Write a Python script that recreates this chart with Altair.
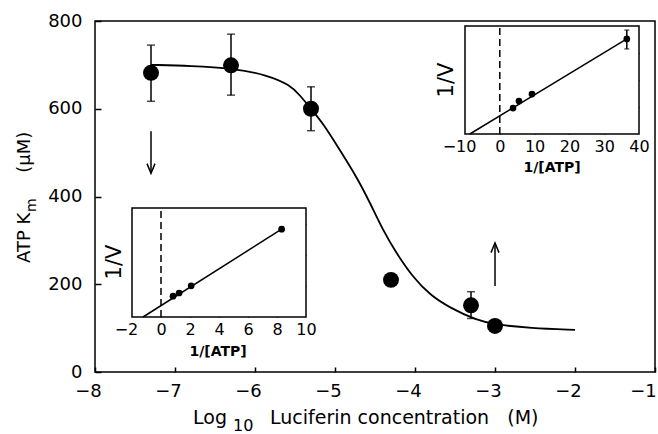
import altair as alt
import pandas as pd

# ---------------- main panel data ----------------
lum_x = [-7.3, -6.3, -5.3, -4.3, -3.3, -3.0]
km = [682, 699, 600, 210, 152, 105]
err_x = [-7.3, -6.3, -5.3, -3.3]
err_lo = [617, 631, 550, 122]
err_hi = [745, 770, 650, 183]
curve_x = [-7.3, -6.8, -6.27, -5.85, -5.56, -5.44, -5.3, -5.15, -4.94, -4.73,
           -4.56, -4.40, -4.23, -4.03, -3.81, -3.56, -3.23, -3.0, -2.56, -2.0]
curve_y = [700, 698, 692, 677, 654, 631, 600, 567, 506, 445,
           385, 323, 270, 217, 175, 146, 118, 108, 100, 96]
arrow_x = [-7.3, -3.0]
arrow_from = [549, 196]
arrow_to = [453, 294]
main_xdom = [-8, -1]
main_ydom = [0, 800]
main_xticks = [-8, -7, -6, -5, -4, -3, -2, -1]
main_yticks = [0, 200, 400, 600, 800]

# ---------------- inset 1 (lower left) ----------------
in1_x = [0.83, 1.25, 2.08, 8.32]
in1_y = [0.67, 0.77, 1.0, 2.82]
in1_fit_x = [-1.24, 8.32]
in1_fit_y = [0, 2.82]
in1_xdom = [-2, 10]
in1_ydom = [0, 3.5]
in1_xticks = [-2, 0, 2, 4, 6, 8, 10]
in1_yticks = [1, 2, 3]

# ---------------- inset 2 (upper right) ----------------
in2_x = [3.8, 5.5, 9.25, 36.5]
in2_y = [0.96, 1.22, 1.48, 3.52]
in2_err_x = [36.5]
in2_err_lo = [3.15]
in2_err_hi = [3.85]
in2_fit_x = [-8.6, 36.5]
in2_fit_y = [0, 3.52]
in2_xdom = [-10, 40]
in2_ydom = [0, 4]
in2_xticks = [-10, 0, 10, 20, 30, 40]
in2_yticks = [1, 2, 3]

# ---------------- layout ----------------
W, H = 560, 351
FONT = "DejaVu Sans"
NBSP = "\u00a0"
NEG_SHIFT = {"condition": {"test": "datum.value < 0", "value": -6}, "value": 0}
MAIN_SHIFT = {"condition": {"test": "datum.value == -1", "value": -12}, "value": -7}


def ax_labels(orient, values, offset=0, size=18, pad=10, shift=None):
    kw = dict(orient=orient, values=values, offset=offset, ticks=False,
              tickSize=0, domain=False, grid=False, labelFontSize=size,
              labelPadding=pad, labelFlush=False, labelOverlap=False,
              title=None)
    if shift is not None:
        kw["labelOffset"] = shift
    return alt.Axis(**kw)


def ax_ticks(orient, values, offset=0, size=6):
    return alt.Axis(orient=orient, values=values, offset=offset, labels=False,
                    ticks=True, tickSize=size, domain=False, grid=False,
                    title=None)


def scale(dom, rng=None):
    kw = dict(domain=dom, nice=False, zero=False)
    if rng is not None:
        kw["range"] = rng
    return alt.Scale(**kw)


mxs = scale(main_xdom)
mys = scale(main_ydom)

layers = []

curve_df = pd.DataFrame({"x": curve_x, "y": curve_y})
layers.append(
    alt.Chart(curve_df).mark_line(color="black", strokeWidth=1.8, interpolate="basis").encode(
        x=alt.X("x:Q", scale=mxs, axis=ax_labels("bottom", main_xticks, pad=10, shift=MAIN_SHIFT)),
        y=alt.Y("y:Q", scale=mys, axis=ax_labels("left", main_yticks, pad=13)),
    )
)

err_df = pd.DataFrame({"x": err_x, "lo": err_lo, "hi": err_hi})
layers.append(
    alt.Chart(err_df).mark_rule(color="black", strokeWidth=1.5).encode(
        x=alt.X("x:Q", scale=mxs, axis=None),
        y=alt.Y("lo:Q", scale=mys, axis=None),
        y2="hi:Q",
    )
)
cap_df = pd.DataFrame({"x": err_x + err_x, "y": err_lo + err_hi})
layers.append(
    alt.Chart(cap_df).mark_tick(color="black", orient="horizontal", size=8, thickness=1.5).encode(
        x=alt.X("x:Q", scale=mxs, axis=None),
        y=alt.Y("y:Q", scale=mys, axis=None),
    )
)

pts_df = pd.DataFrame({"x": lum_x, "y": km})
layers.append(
    alt.Chart(pts_df).mark_circle(color="black", size=255, opacity=1).encode(
        x=alt.X("x:Q", scale=mxs, axis=ax_ticks("top", main_xticks, offset=-H, size=5)),
        y=alt.Y("y:Q", scale=mys, axis=ax_ticks("right", main_yticks, offset=-W, size=6)),
    )
)

arr_df = pd.DataFrame({"x": arrow_x, "y0": arrow_from, "y1": arrow_to})
layers.append(
    alt.Chart(arr_df).mark_rule(color="black", strokeWidth=1.5).encode(
        x=alt.X("x:Q", scale=mxs, axis=None),
        y=alt.Y("y0:Q", scale=mys, axis=None),
        y2="y1:Q",
    )
)
down_df = pd.DataFrame({"x": arrow_x[:1], "y": arrow_to[:1]})
up_df = pd.DataFrame({"x": arrow_x[1:], "y": arrow_to[1:]})
layers.append(
    alt.Chart(down_df).mark_point(shape="M -1 -2.4 L 0 0 L 1 -2.4", size=64, filled=False,
                                  color="black", strokeWidth=1.5, opacity=1).encode(
        x=alt.X("x:Q", scale=mxs, axis=None),
        y=alt.Y("y:Q", scale=mys, axis=None),
    )
)
layers.append(
    alt.Chart(up_df).mark_point(shape="M -1 2.4 L 0 0 L 1 2.4", size=64, filled=False,
                                color="black", strokeWidth=1.5, opacity=1).encode(
        x=alt.X("x:Q", scale=mxs, axis=None),
        y=alt.Y("y:Q", scale=mys, axis=None),
    )
)


def inset(px, py, fitx, fity, xdom, ydom, xr, yr, xticks, yticks,
          ex=None, elo=None, ehi=None):
    out = []
    xs = scale(xdom, xr)
    ys = scale(ydom, yr)
    inner = xticks[1:-1]
    frame_df = pd.DataFrame({"x0": [xdom[0]], "x1": [xdom[1]], "y0": [ydom[0]], "y1": [ydom[1]]})
    out.append(
        alt.Chart(frame_df).mark_rect(fill="white", stroke="black", strokeWidth=1.5).encode(
            x=alt.X("x0:Q", scale=xs, axis=ax_labels("bottom", xticks, offset=yr[0] - H,
                                                      size=16, pad=4, shift=NEG_SHIFT)),
            x2="x1:Q",
            y=alt.Y("y0:Q", scale=ys, axis=ax_ticks("right", yticks, offset=xr[0] - W, size=3)),
            y2="y1:Q",
        )
    )
    dash_df = pd.DataFrame({"x": [0], "y0": [ydom[0]], "y1": [ydom[1]]})
    out.append(
        alt.Chart(dash_df).mark_rule(color="black", strokeWidth=1.5, strokeDash=[7, 4]).encode(
            x=alt.X("x:Q", scale=xs, axis=ax_ticks("top", inner, offset=-yr[0], size=3)),
            y=alt.Y("y0:Q", scale=ys, axis=ax_ticks("left", yticks, offset=-xr[1], size=3)),
            y2="y1:Q",
        )
    )
    fit_df = pd.DataFrame({"x": fitx, "y": fity})
    out.append(
        alt.Chart(fit_df).mark_line(color="black", strokeWidth=1.5).encode(
            x=alt.X("x:Q", scale=xs, axis=ax_ticks("bottom", inner, offset=yr[1] - H, size=3)),
            y=alt.Y("y:Q", scale=ys, axis=None),
        )
    )
    if ex is not None:
        e_df = pd.DataFrame({"x": ex, "lo": elo, "hi": ehi})
        out.append(
            alt.Chart(e_df).mark_rule(color="black", strokeWidth=1.5).encode(
                x=alt.X("x:Q", scale=xs, axis=None),
                y=alt.Y("lo:Q", scale=ys, axis=None),
                y2="hi:Q",
            )
        )
        c_df = pd.DataFrame({"x": ex + ex, "y": elo + ehi})
        out.append(
            alt.Chart(c_df).mark_tick(color="black", orient="horizontal", size=5, thickness=1.3).encode(
                x=alt.X("x:Q", scale=xs, axis=None),
                y=alt.Y("y:Q", scale=ys, axis=None),
            )
        )
    p_df = pd.DataFrame({"x": px, "y": py})
    out.append(
        alt.Chart(p_df).mark_circle(color="black", size=45, opacity=1).encode(
            x=alt.X("x:Q", scale=xs, axis=None),
            y=alt.Y("y:Q", scale=ys, axis=None),
        )
    )
    return out


layers += inset(in1_x, in1_y, in1_fit_x, in1_fit_y, in1_xdom, in1_ydom,
                [37, 211], [296, 187], in1_xticks, in1_yticks)
layers += inset(in2_x, in2_y, in2_fit_x, in2_fit_y, in2_xdom, in2_ydom,
                [370, 544], [113, 5], in2_xticks, in2_yticks,
                in2_err_x, in2_err_lo, in2_err_hi)


def txt(s, x, y, size, angle=0, align="left", baseline="alphabetic", weight="normal"):
    return alt.Chart(pd.DataFrame({"t": [s]})).mark_text(
        text=s, fontSize=size, angle=angle, align=align, baseline=baseline,
        fontWeight=weight, font=FONT, color="black"
    ).encode(x=alt.value(x), y=alt.value(y))


# main axis titles (with subscripts)
layers.append(txt("ATP K" + NBSP * 7 + "(\u03bcM)", -65, 242, 18, angle=270))
layers.append(txt("m", -59, 191, 14, angle=270))
layers.append(txt("Log", 98, 403, 19))
layers.append(txt("10", 138, 410, 16))
layers.append(txt("Luciferin concentration" + NBSP * 3 + "(M)", 175, 403, 19))
# inset titles
layers.append(txt("1/V", 20, 241, 21, angle=270, align="center", baseline="middle"))
layers.append(txt("1/[ATP]", 123, 331, 14, align="center", baseline="middle", weight="bold"))
layers.append(txt("1/V", 352, 59, 21, angle=270, align="center", baseline="middle"))
layers.append(txt("1/[ATP]", 457, 147, 14, align="center", baseline="middle", weight="bold"))

chart = (
    alt.layer(*layers)
    .resolve_scale(x="independent", y="independent")
    .resolve_axis(x="independent", y="independent")
    .properties(
        width=W, height=H,
        autosize=alt.AutoSizeParams(type="none"),
        padding={"left": 95, "top": 21, "right": 3, "bottom": 62},
        background="white",
    )
    .configure_view(stroke="black", strokeWidth=1.5)
    .configure_axis(labelFont=FONT, labelColor="black", tickColor="black", tickWidth=1.5)
)

chart.save("out.html", embed_options={"renderer": "svg", "actions": False})
